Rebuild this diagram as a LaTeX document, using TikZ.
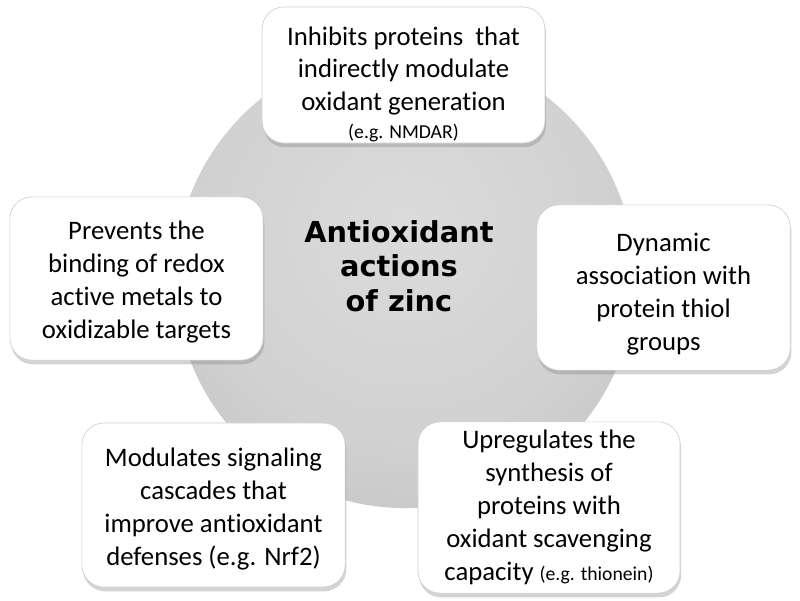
\documentclass[tikz,border=0pt]{standalone}
\usepackage{fontspec}
\setmainfont{Carlito}[Ligatures=NoCommon]
\newfontfamily\hubfont{DejaVu Sans}
\usetikzlibrary{shadows}

\pgfdeclareradialshading{hubshade}{\pgfpoint{0bp}{6bp}}{%
  color(0bp)=(black!14); color(22bp)=(black!18); color(40bp)=(black!25);
  color(48bp)=(black!30); color(100bp)=(black!30)}

\newcommand{\lift}[1]{\rule{0pt}{#1}}

\tikzset{
  effectbox/.style={draw=black!18, line width=0.5pt, fill=white,
    rounded corners=0.55cm, align=center, inner sep=0pt,
    font=\fontsize{19}{23.4}\selectfont,
    drop shadow={opacity=0.35, shadow xshift=0.8pt, shadow yshift=-3pt}},
  hubcircle/.style={circle, shading=hubshade, inner sep=0pt}
}

\begin{document}
\begin{tikzpicture}[x=0.025cm, y=-0.025cm]
    \useasboundingbox (0,0) rectangle (800,600);

    % Central circle
    \node[hubcircle, minimum size=11.5cm] (hub) at (405,278) {};
    \node[font=\hubfont\bfseries\fontsize{20.5}{24.5}\selectfont, align=center,
          text=black] (title) at (399,266) {Antioxidant\\actions\\of zinc};

    % Top box
    \node[effectbox, minimum width=7.07cm, minimum height=3.4cm] (top) at (403.5,75)
        {\lift{26pt}Inhibits proteins\ \ that\\indirectly modulate\\oxidant generation\\[-4pt]
         {\fontsize{14}{16}\selectfont (e.g. NMDAR)}};

    % Left box
    \node[effectbox, minimum width=6.33cm, minimum height=4.08cm] (left) at (136.5,278.5)
        {\lift{18pt}Prevents the\\binding of redox\\active metals to\\oxidizable targets};

    % Right box
    \node[effectbox, minimum width=6.33cm, minimum height=4.13cm] (right) at (663.5,287.5)
        {\lift{22pt}Dynamic\\association with\\protein thiol\\groups};

    % Bottom left box
    \node[effectbox, minimum width=6.58cm, minimum height=4.1cm] (botleft) at (213.5,505)
        {\lift{19pt}Modulates signaling\\cascades that\\improve antioxidant\\defenses (e.g. Nrf2)};

    % Bottom right box
    \node[effectbox, minimum width=6.55cm, minimum height=4.28cm] (botright) at (549,507.5)
        {Upregulates the\\synthesis of\\proteins with\\oxidant scavenging\\
         capacity {\fontsize{14}{16}\selectfont (e.g. thionein)}};
\end{tikzpicture}
\end{document}
